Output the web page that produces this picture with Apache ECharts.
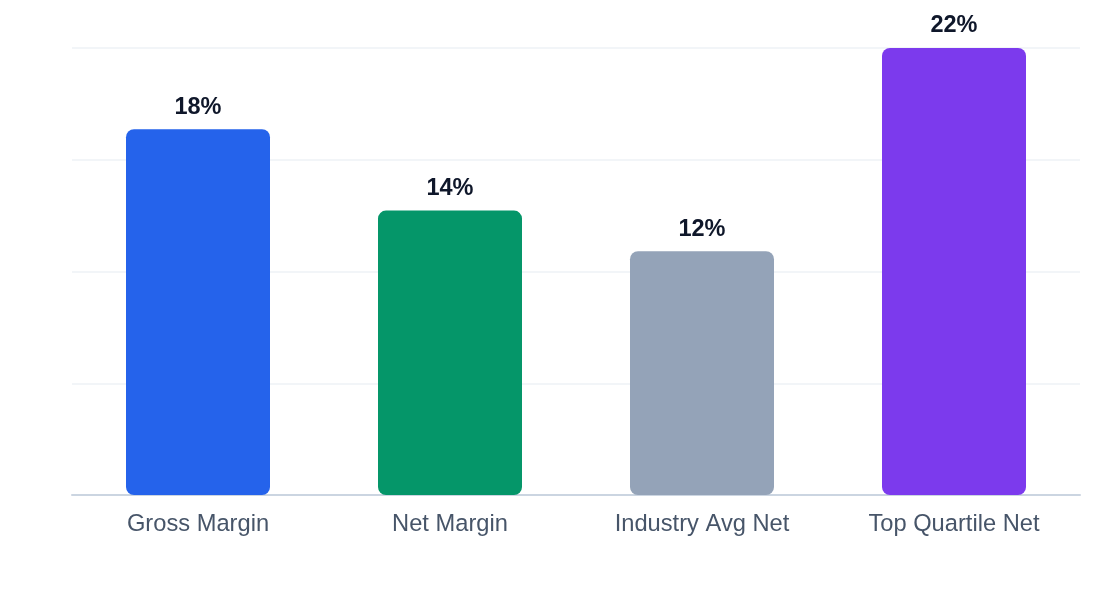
<!DOCTYPE html>
<html>
<head>
<meta charset="utf-8">
<script src="https://cdn.jsdelivr.net/npm/echarts@6/dist/echarts.min.js"></script>
<style>html,body{margin:0;padding:0;background:#fff;}#c{width:1120px;height:600px;}</style>
</head>
<body>
<div id="c"></div>
<script>
const categories = ["Gross Margin", "Net Margin", "Industry Avg Net", "Top Quartile Net"];
const values = [18, 14, 12, 22];
const colors = ["#2563eb", "#059669", "#94a3b8", "#7c3aed"];
const FONT = "'Liberation Sans', 'DejaVu Sans', sans-serif";

const chart = echarts.init(document.getElementById('c'));
chart.setOption({
  animation: false,
  grid: { left: 72, right: 40, top: 48, bottom: 105 },
  xAxis: {
    type: 'category',
    data: categories,
    axisLine: { lineStyle: { color: '#cbd5e1', width: 2 } },
    axisTick: { show: false },
    axisLabel: { color: '#475569', fontSize: 23.7, fontFamily: FONT, margin: 17 }
  },
  yAxis: {
    type: 'value',
    min: 0, max: 22, interval: 5.5,
    axisLabel: { show: false },
    axisLine: { show: false },
    axisTick: { show: false },
    splitLine: { lineStyle: { color: '#eef2f6', width: 1.5 } }
  },
  series: [{
    type: 'bar',
    barWidth: 144,
    data: values.map((v, i) => ({ value: v, itemStyle: { color: colors[i] } })),
    itemStyle: { borderRadius: 8 },
    label: {
      show: true, position: 'top', distance: 10,
      formatter: '{c}%',
      color: '#0f172a', fontSize: 23.5, fontWeight: 'bold',
      fontFamily: FONT
    }
  }]
});
</script>
</body>
</html>
